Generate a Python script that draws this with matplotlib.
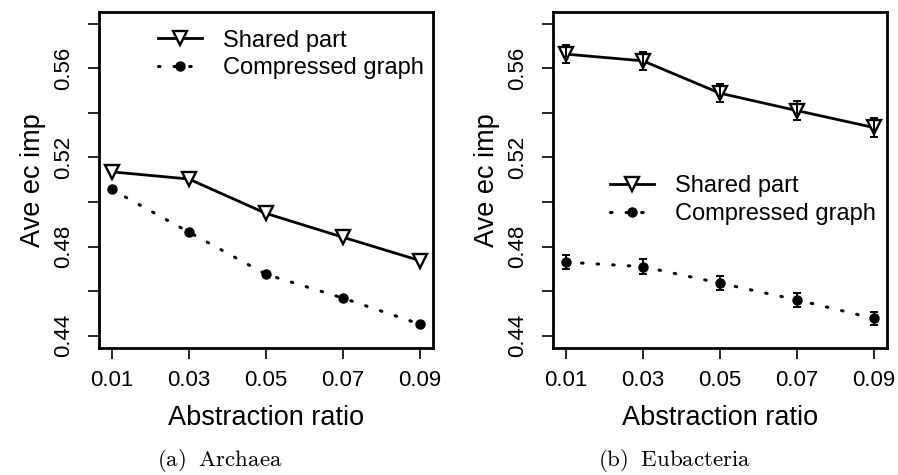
import matplotlib
matplotlib.use("Agg")
import matplotlib.pyplot as plt
import numpy as np

plt.rcParams['font.family'] = ['Liberation Sans', 'DejaVu Sans']
plt.rcParams['mathtext.fontset'] = 'cm'

ratios = [0.01, 0.03, 0.05, 0.07, 0.09]
xtick_labels = ["0.01", "0.03", "0.05", "0.07", "0.09"]
yticks = [0.44, 0.46, 0.48, 0.50, 0.52, 0.54, 0.56, 0.58]
ytick_labels = ["0.44", "", "0.48", "", "0.52", "", "0.56", ""]

archaea_shared = [0.5135, 0.5103, 0.4949, 0.4842, 0.4737]
archaea_compressed = [0.5056, 0.4865, 0.4676, 0.4569, 0.4452]

eubact_shared = [0.5663, 0.5633, 0.5488, 0.5410, 0.5334]
eubact_shared_err = [0.0039, 0.0040, 0.0040, 0.0041, 0.0041]
eubact_compressed = [0.4730, 0.4710, 0.4636, 0.4561, 0.4478]
eubact_compressed_err = [0.0031, 0.0033, 0.0030, 0.0031, 0.0030]

series_labels = ["Shared part", "Compressed graph"]
captions = [r"$\mathrm{(a)\;\ Archaea}$", r"$\mathrm{(b)\;\ Eubacteria}$"]

W, H = 898, 475
fig = plt.figure(figsize=(W / 100, H / 100), dpi=100)

def px_rect(x0, y0, x1, y1):
    return [x0 / W, 1 - y1 / H, (x1 - x0) / W, (y1 - y0) / H]

ax1 = fig.add_axes(px_rect(99, 12, 433, 348))
ax2 = fig.add_axes(px_rect(553.3, 12, 886.7, 348))

dotted = (0, (0.5, 4.6))

def style(ax):
    ax.set_xlim(0.0067, 0.0934)
    ax.set_ylim(0.4345, 0.5852)
    ax.set_xticks(ratios)
    ax.set_xticklabels(xtick_labels, fontsize=16)
    ax.set_yticks(yticks)
    ax.set_yticklabels(ytick_labels, fontsize=16, rotation=90, va='center')
    ax.tick_params(axis='both', direction='out', length=8, width=1.2)
    ax.tick_params(axis='x', pad=8)
    ax.tick_params(axis='y', pad=10)
    for s in ax.spines.values():
        s.set_linewidth(2.0)
    ax.set_xlabel("Abstraction ratio", fontsize=19.5, labelpad=10)
    ax.set_ylabel("Ave ec imp", fontsize=19.5, labelpad=5)

shared_kw = dict(color='black', lw=2.0, marker='v', ms=9.5, mfc='white',
                 mec='black', mew=1.7)
comp_kw = dict(color='black', lw=2.2, ls=dotted, dash_capstyle='round',
               marker='o', ms=6.5, mfc='black', mec='black')
err_kw = dict(fmt='none', ecolor='black', elinewidth=1.4, capsize=3,
              capthick=1.4, zorder=4)

# Left panel
ax1.plot(ratios, archaea_shared, label=series_labels[0], **shared_kw)
ax1.plot(ratios, archaea_compressed, label=series_labels[1], **comp_kw)
style(ax1)

# Right panel
ax2.plot(ratios, eubact_shared, label=series_labels[0], **shared_kw)
ax2.plot(ratios, eubact_compressed, label=series_labels[1], **comp_kw)
ax2.errorbar(ratios, eubact_shared, yerr=eubact_shared_err, **err_kw)
ax2.errorbar(ratios, eubact_compressed, yerr=eubact_compressed_err, **err_kw)
style(ax2)

def add_legend(ax, x_px, yc_px):
    h, l = ax.get_legend_handles_labels()
    ax.legend(h[:2], l[:2], loc='center left', bbox_to_anchor=(x_px / W, 1 - yc_px / H),
              bbox_transform=fig.transFigure, frameon=False, fontsize=17,
              handlelength=1.85, handletextpad=0.9, borderpad=0, borderaxespad=0,
              labelspacing=0.25, numpoints=1)

add_legend(ax1, 158, 54.5)
add_legend(ax2, 610, 200)

fig.text(220 / W, 1 - 461 / H, captions[0], fontsize=16.5, ha='center', va='center')
fig.text(675 / W, 1 - 461 / H, captions[1], fontsize=16.5, ha='center', va='center')

fig.savefig("out.png", dpi=100)
